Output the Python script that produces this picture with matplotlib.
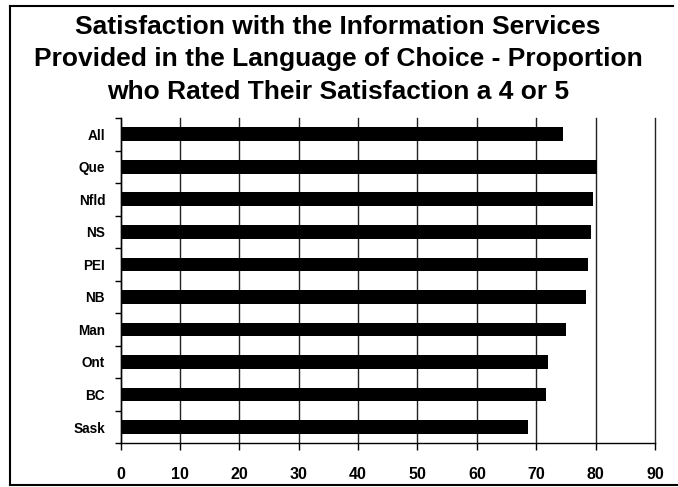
import matplotlib
matplotlib.use("Agg")
import matplotlib.pyplot as plt
from matplotlib.lines import Line2D

# Provinces, top to bottom
regions = ["All", "Que", "Nfld", "NS", "PEI", "NB", "Man", "Ont", "BC", "Sask"]
# Percent rating satisfaction 4 or 5
values = [74.5, 80.2, 79.5, 79.2, 78.8, 78.3, 75.0, 71.9, 71.7, 68.6]
x_ticks = [0, 10, 20, 30, 40, 50, 60, 70, 80, 90]

title = ("Satisfaction with the Information Services\n"
         "Provided in the Language of Choice - Proportion\n"
         "who Rated Their Satisfaction a 4 or 5")

plt.rcParams["font.family"] = ["Liberation Sans", "DejaVu Sans"]
plt.rcParams["font.weight"] = "bold"

W, H = 678, 487
fig = plt.figure(figsize=(W / 100, H / 100), dpi=100)
fig.patch.set_facecolor("white")

ax = fig.add_axes([120.5 / W, 1 - 443.3 / H, (655 - 120.5) / W, (443.3 - 118) / H])

n = len(regions)
ypos = list(range(n))
ax.barh(ypos, values, height=0.42, color="black", zorder=3)

ax.set_xlim(0, 90)
ax.set_ylim(n - 0.5, -0.5)

ax.set_xticks(x_ticks)
ax.set_xticklabels([str(t) for t in x_ticks], fontsize=11.5, fontweight="bold")
ax.xaxis.grid(True, color="#222222", linewidth=1.0, zorder=0)
ax.set_axisbelow(True)
for gl in ax.get_xgridlines():
    gl.set_clip_on(False)

# category labels centred on the bars, ticks on the boundaries
ax.set_yticks([i - 0.5 for i in range(n + 1)])
ax.set_yticklabels([])
ax.set_yticks(ypos, minor=True)
ax.set_yticklabels(regions, minor=True, fontsize=9.8, fontweight="bold")
ax.tick_params(axis="y", which="major", direction="out", length=4, width=1.0)
ax.tick_params(axis="y", which="minor", length=0, pad=11)
ax.tick_params(axis="x", direction="out", length=5, width=1.0, pad=12)

for side in ("top", "right"):
    ax.spines[side].set_visible(False)
for side in ("left", "bottom"):
    ax.spines[side].set_linewidth(1.0)

fig.text(338 / W, 1 - 14.5 / H, title, ha="center", va="top",
         fontsize=19, fontweight="bold", linespacing=1.45)

# frame around the chart
fr = dict(color="black", linewidth=1.5, transform=None)
fig.add_artist(Line2D([10, 10], [H - 5.5, H - 485], **fr))
fig.add_artist(Line2D([10, 673], [H - 5.5, H - 5.5], **fr))
fig.add_artist(Line2D([10, 678], [H - 485, H - 485], **fr))

fig.savefig("out.png", dpi=100)
